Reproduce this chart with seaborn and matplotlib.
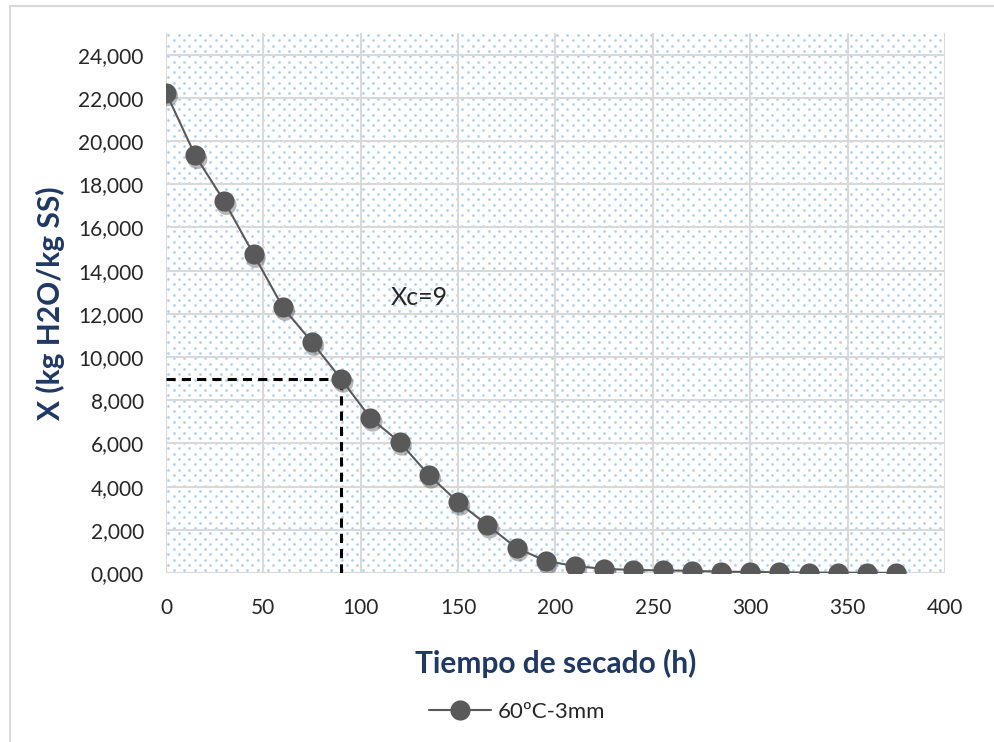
import numpy as np
import matplotlib
matplotlib.use("Agg")
import matplotlib.pyplot as plt
from matplotlib.lines import Line2D
from matplotlib import patheffects as pe
import seaborn as sns
import pandas as pd

# Drying curve: moisture content vs drying time
tiempo_h = [0, 15, 30, 45, 60, 75, 90, 105, 120, 135, 150, 165, 180, 195,
            210, 225, 240, 255, 270, 285, 300, 315, 330, 345, 360, 375]
humedad_x = [22.24, 19.33, 17.20, 14.75, 12.30, 10.68, 8.97, 7.17, 6.06, 4.53,
             3.28, 2.22, 1.16, 0.56, 0.32, 0.19, 0.14, 0.12, 0.10, 0.06,
             0.05, 0.03, 0.02, 0.015, 0.01, 0.005]
serie = "60ºC-3mm"
xc_tiempo = 90
xc_valor = 9
x_ticks = [0, 50, 100, 150, 200, 250, 300, 350, 400]
y_ticks = [0, 2, 4, 6, 8, 10, 12, 14, 16, 18, 20, 22, 24]

df = pd.DataFrame({"t": tiempo_h, "X": humedad_x, "serie": serie})

sns.set_style("white")
plt.rcParams["font.family"] = ["Lato", "DejaVu Sans"]

W, H = 995, 742
fig = plt.figure(figsize=(W / 100, H / 100), dpi=100)
fig.patch.set_facecolor("white")

# chart border (top and left edges visible)
fig.add_artist(Line2D([10 / W, 10 / W], [0, 1 - 6 / H], transform=fig.transFigure,
                      color="#D9D9D9", lw=1.5))
fig.add_artist(Line2D([10 / W, 1], [1 - 6 / H, 1 - 6 / H], transform=fig.transFigure,
                      color="#D9D9D9", lw=1.5))

L, R, T, B = 166, 945, 33, 573
ax = fig.add_axes([L / W, 1 - B / H, (R - L) / W, (B - T) / H])
ax.set_facecolor("white")

# dotted pattern fill of the plot area
pw, ph = R - L, B - T
dx, dy = 10.5, 5.3
pts_x, pts_y = [], []
for i, yy in enumerate(np.arange(2.0, ph, dy)):
    off = 2.5 if i % 2 == 0 else 2.5 + dx / 2
    xs = np.arange(off, pw, dx)
    pts_x.extend(xs / pw)
    pts_y.extend([1 - yy / ph] * len(xs))
ax.scatter(pts_x, pts_y, s=3.8, color="#B0CFEE", linewidths=0,
           transform=ax.transAxes, zorder=0, clip_on=True)

ax.set_xlim(0, 400)
ax.set_ylim(0, 25)
ax.set_xticks(x_ticks)
ax.set_yticks(y_ticks)
ax.grid(True, color="#D9D9D9", lw=1.5, zorder=1)
ax.set_axisbelow(True)
for s in ax.spines.values():
    s.set_visible(False)

# critical moisture guide lines
ax.plot([0, xc_tiempo], [xc_valor, xc_valor], ls=(0, (3, 2)), color="black", lw=2.2, zorder=3)
ax.plot([xc_tiempo, xc_tiempo], [0, xc_valor], ls=(0, (3, 2)), color="black", lw=2.2, zorder=3)

msize = 14.5
# soft drop shadow under the markers
shadow, = ax.plot(tiempo_h, humedad_x, ls="none", marker="o", markersize=msize,
                  markeredgewidth=0, color="#595959", zorder=3.5)
shadow.set_path_effects([pe.SimplePatchShadow(offset=(1.5, -2.5), alpha=0.28,
                                              shadow_rgbFace="#000000")])

sns.lineplot(data=df, x="t", y="X", hue="serie", palette=["#595959"], marker="o",
             markersize=msize, markeredgewidth=0, linewidth=1.5, ax=ax, zorder=4,
             legend=False)

ax.text(130, 12.75, f"Xc={xc_valor}", fontsize=18, ha="center", va="center", zorder=5)

ax.set_xticklabels([str(v) for v in x_ticks], fontsize=15)
ax.set_yticklabels([f"{v:.3f}".replace(".", ",") for v in y_ticks], fontsize=15)
ax.tick_params(axis="both", length=0)
ax.tick_params(axis="x", pad=18)
ax.tick_params(axis="y", pad=16)

navy = "#1F3864"
ax.set_xlabel("Tiempo de secado (h)", fontsize=21.5, fontweight="bold", color=navy, labelpad=22)
ax.set_ylabel("X (kg H2O/kg SS)", fontsize=21.5, fontweight="bold", color=navy, labelpad=10)

handle = Line2D([], [], color="#595959", lw=1.5, marker="o", markersize=msize,
                markeredgewidth=0)
fig.legend([handle], [serie], loc="center", bbox_to_anchor=(517 / W, 1 - 712 / H),
           frameon=False, fontsize=16, handlelength=2.8, handletextpad=0.3)

fig.savefig("out.png", dpi=100)
